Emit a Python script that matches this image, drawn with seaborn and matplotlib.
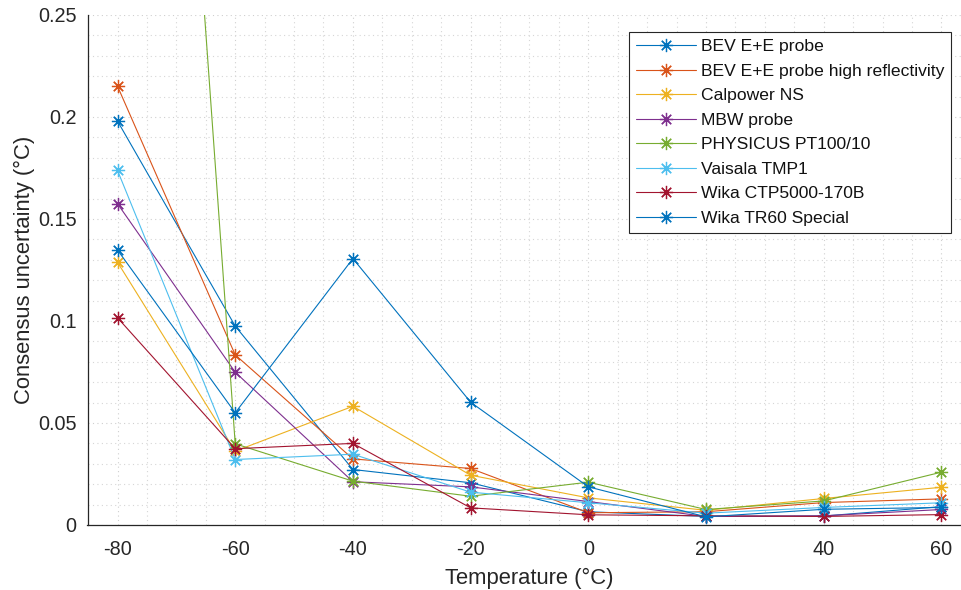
import numpy as np
import pandas as pd
import matplotlib
matplotlib.use("Agg")
import matplotlib.pyplot as plt
import seaborn as sns
from matplotlib.ticker import MultipleLocator, FixedLocator

temps = [-80, -60, -40, -20, 0, 20, 40, 60]

bev_ee = [0.198, 0.0975, 0.0272, 0.0207, 0.0065, 0.0042, 0.0044, 0.0090]
bev_ee_hr = [0.2151, 0.0834, 0.0324, 0.0277, 0.0060, 0.0065, 0.0110, 0.0128]
calpower = [0.1288, 0.0362, 0.0582, 0.0244, 0.0133, 0.0072, 0.0130, 0.0185]
mbw = [0.1575, 0.0749, 0.0212, 0.0187, 0.0115, 0.0042, 0.0045, 0.0076]
physicus = [0.847, 0.0398, 0.0215, 0.0141, 0.0210, 0.0076, 0.0118, 0.0259]
vaisala = [0.1738, 0.0321, 0.0347, 0.0161, 0.0109, 0.0058, 0.0086, 0.0109]
wika_ctp = [0.1016, 0.0374, 0.0400, 0.0084, 0.0050, 0.0045, 0.0042, 0.0051]
wika_tr60 = [0.1348, 0.0550, 0.1306, 0.0602, 0.0187, 0.0040, 0.0077, 0.0086]

names = ["BEV E+E probe", "BEV E+E probe high reflectivity", "Calpower NS",
         "MBW probe", "PHYSICUS PT100/10", "Vaisala TMP1",
         "Wika CTP5000-170B", "Wika TR60 Special"]
series = [bev_ee, bev_ee_hr, calpower, mbw, physicus, vaisala, wika_ctp, wika_tr60]
colors = ["#0072BD", "#D95319", "#EDB120", "#7E2F8E", "#77AC30",
          "#4DBEEE", "#A2142F", "#0072BD"]

y_ticks = [0, 0.05, 0.1, 0.15, 0.2, 0.25]
y_tick_labels = ["0", "0.05", "0.1", "0.15", "0.2", "0.25"]
x_ticks = [-80, -60, -40, -20, 0, 20, 40, 60]

sns.set_theme(style="white")
plt.rcParams["font.family"] = ["Liberation Sans", "DejaVu Sans"]

W, H = 961, 590
fig = plt.figure(figsize=(W / 100, H / 100), dpi=100)
left_px, bottom_px, top_px = 87.5, 525, 15
px_per_unit = 5.885
xlo, xhi = -85.1, 65
width_px = (xhi - xlo) * px_per_unit
ax = fig.add_axes([left_px / W, (H - bottom_px) / H, width_px / W, (bottom_px - top_px) / H])

asterisk = (8, 2, 0)
for name, vals, c in zip(names, series, colors):
    df = pd.DataFrame({"T": temps, "U": vals})
    sns.lineplot(data=df, x="T", y="U", ax=ax, color=c, label=name,
                 marker=asterisk, markersize=9.5, markeredgecolor=c,
                 markerfacecolor=c, markeredgewidth=0.9, linewidth=0.8)

ax.set_xlim(xlo, xhi)
ax.set_ylim(0, 0.25)
ax.yaxis.set_major_locator(FixedLocator(y_ticks))
ax.set_yticklabels(y_tick_labels)
ax.xaxis.set_major_locator(FixedLocator(x_ticks))
ax.set_xticklabels([str(t) for t in x_ticks])
ax.xaxis.set_minor_locator(MultipleLocator(5))
ax.yaxis.set_minor_locator(MultipleLocator(0.01))

ax.grid(True, which="major", color="#cfcfcf", linestyle=(0, (1, 3)), linewidth=0.8)
ax.grid(True, which="minor", color="#d6d6d6", linestyle=(0, (1, 3)), linewidth=0.8)
ax.set_axisbelow(True)

for s in ["top", "right"]:
    ax.spines[s].set_visible(False)
for s in ["left", "bottom"]:
    ax.spines[s].set_color("#262626")
    ax.spines[s].set_linewidth(0.9)

ax.tick_params(axis="both", which="major", direction="in", length=6, width=0.9,
               colors="#262626", labelsize=14.3, labelcolor="#262626")
ax.tick_params(axis="y", which="major", pad=8)
ax.tick_params(axis="x", which="major", pad=11)
ax.tick_params(axis="both", which="minor", length=0)

ax.set_xlabel("Temperature (°C)", fontsize=15.8, color="#262626", labelpad=6)
ax.set_ylabel("Consensus uncertainty (°C)", fontsize=15.8, color="#262626", labelpad=2)

leg = ax.legend(loc="upper left", bbox_to_anchor=(629 / W, (H - 32) / H),
                bbox_transform=fig.transFigure, fontsize=12.6, frameon=True,
                fancybox=False, edgecolor="#262626", framealpha=1,
                borderpad=0.4, labelspacing=0.53, handlelength=3.4,
                handletextpad=0.3, borderaxespad=0)
leg.get_frame().set_linewidth(0.8)
for t in leg.get_texts():
    t.set_color("#111111")

fig.savefig("out.png", dpi=100)
